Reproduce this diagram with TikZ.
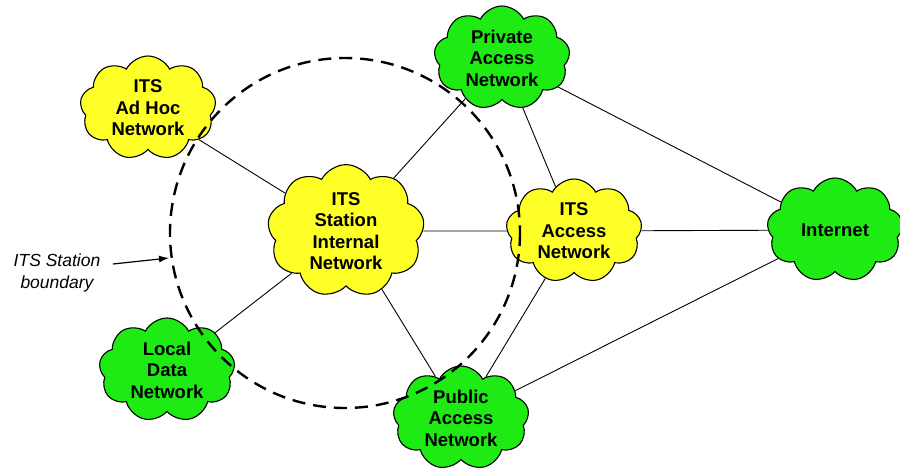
\documentclass[tikz,border=0pt]{standalone}
\usepackage{fontspec}
\setmainfont{Liberation Sans}
\usetikzlibrary{shapes.symbols,arrows.meta}
\definecolor{itsyellow}{RGB}{255,255,40}
\definecolor{netgreen}{RGB}{30,235,20}
\tikzset{
  net/.style={cloud, cloud puffs=9, cloud puff arc=125, aspect=1.3,
    draw=black, line width=1.1pt, minimum width=136pt, minimum height=104pt,
    inner sep=0pt, align=center,
    font=\fontsize{18.5}{21.5}\selectfont\bfseries},
  yellownet/.style={net, fill=itsyellow},
  greennet/.style={net, fill=netgreen},
  link/.style={draw=black, line width=0.9pt},
  boundary/.style={draw=black, line width=2.4pt, dash pattern=on 13pt off 8pt},
  note/.style={font=\fontsize{17.5}{22}\selectfont\itshape, align=center}
}
\begin{document}
\begin{tikzpicture}[x=1pt,y=-1pt]
\useasboundingbox (0,0) rectangle (900,472);

% network clouds
\node[yellownet] (adhoc)   at (148,108) {ITS\\Ad Hoc\\Network};
\node[yellownet] (station) at (346,231) {ITS\\Station\\Internal\\Network};
\node[yellownet] (access)  at (574,231) {ITS\\Access\\Network};
\node[greennet]  (private) at (502,58)  {Private\\Access\\Network};
\node[greennet]  (inet)    at (835,230) {Internet};
\node[greennet]  (local)   at (167,370) {Local\\Data\\Network};
\node[greennet]  (public)  at (461,418) {Public\\Access\\Network};

% links between networks
\draw[link] (adhoc) -- (station);
\draw[link] (station) -- (private);
\draw[link] (station) -- (access);
\draw[link] (station) -- (local);
\draw[link] (station) -- (public);
\draw[link] (private) -- (access);
\draw[link] (private) -- (inet);
\draw[link] (access) -- (inet);
\draw[link] (access) -- (public);
\draw[link] (public) -- (inet);

% station boundary
\coordinate (c) at (345,233);
\draw[boundary] (c) circle (175);
\coordinate (tip) at (169,258);
\node[note] (lbl) at (57,273) {ITS Station\\boundary};
\draw[line width=1.2pt, -{Latex[length=10pt,width=7pt]}] (113,264) -- (tip);
\end{tikzpicture}
\end{document}
